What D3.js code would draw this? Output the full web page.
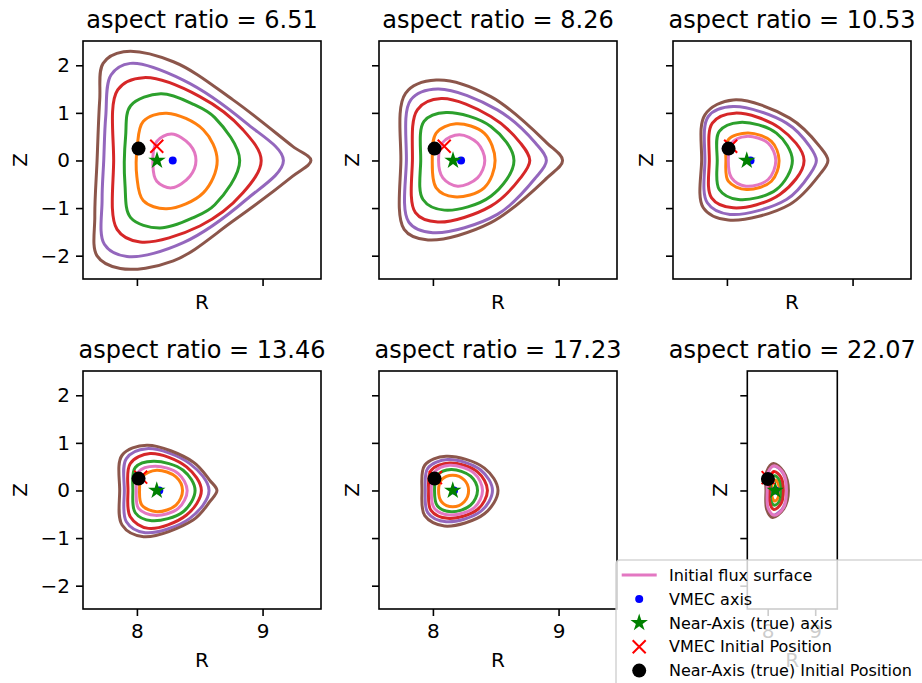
<!DOCTYPE html>
<html>
<head>
<meta charset="utf-8">
<script src="https://cdn.jsdelivr.net/npm/d3@7"></script>
<style>
body { margin: 0; background: #fff; }
text { font-family: "DejaVu Sans", sans-serif; fill: #000; }
</style>
</head>
<body>
<svg id="chart" width="922" height="683"></svg>
<script>
// one entry per panel
var aspectRatios = [6.51, 8.26, 10.53, 13.46, 17.23, 22.07];

// flux surfaces, [R, Z] points
var surfOrange = [
    [[8.237,0.994],[8.528,0.645],[8.639,0],[8.528,-0.68],[8.237,-1.015],[8.05,-0.84],[8.0,-0.35],[8.003,0.3],[8.05,0.82]],
    [[8.184,0.77],[8.408,0.575],[8.495,0],[8.408,-0.575],[8.171,-0.764],[8.026,-0.575],[7.995,0],[8.026,0.575]],
    [[8.169,0.575],[8.354,0.40],[8.415,0],[8.354,-0.436],[8.156,-0.61],[8.011,-0.436],[7.992,0],[8.011,0.436]],
    [[8.158,0.426],[8.311,0.286],[8.363,0],[8.311,-0.307],[8.158,-0.447],[8.039,-0.307],[8.021,0],[8.039,0.286]],
    [[8.158,0.321],[8.25,0.22],[8.284,0],[8.25,-0.235],[8.158,-0.342],[8.07,-0.24],[8.045,0],[8.07,0.23]],
    [[8.15,0.22],[8.22,0.15],[8.245,0],[8.22,-0.15],[8.15,-0.22],[8.095,-0.15],[8.085,0],[8.095,0.15]]
];
var surfGreen = [
    [[8.19,1.40],[8.45,1.18],[8.62,0.90],[8.818,0],[8.62,-0.93],[8.45,-1.2],[8.18,-1.42],[7.95,-1.2],[7.905,-0.5],[7.91,0.5],[7.95,1.15]],
    [[8.105,1.008],[8.461,0.715],[8.645,0],[8.461,-0.75],[8.092,-1.043],[7.921,-0.82],[7.903,0],[7.929,0.82]],
    [[8.103,0.80],[8.394,0.575],[8.521,0],[8.394,-0.61],[8.09,-0.82],[7.939,-0.61],[7.923,0],[7.939,0.61]],
    [[8.132,0.614],[8.368,0.426],[8.463,0],[8.368,-0.447],[8.118,-0.635],[7.987,-0.468],[7.968,0],[7.987,0.482]],
    [[8.145,0.44],[8.30,0.30],[8.355,0],[8.30,-0.31],[8.145,-0.447],[8.035,-0.32],[8.013,0],[8.035,0.32]],
    [[8.14,0.31],[8.25,0.21],[8.285,0],[8.25,-0.22],[8.14,-0.31],[8.07,-0.22],[8.06,0],[8.07,0.21]]
];
var surfRed = [
    [[8.053,1.74],[8.501,1.342],[8.844,0.645],[8.989,0],[8.844,-0.68],[8.501,-1.377],[8.026,-1.712],[7.842,-1.447],[7.815,0],[7.847,1.482]],
    [[8.066,1.30],[8.461,0.924],[8.697,0.366],[8.771,0],[8.697,-0.366],[8.461,-0.959],[8.039,-1.294],[7.861,-1.098],[7.837,0],[7.876,1.063]],
    [[8.063,0.994],[8.421,0.68],[8.614,0],[8.421,-0.715],[8.05,-0.994],[7.878,-0.785],[7.86,0],[7.884,0.785]],
    [[8.105,0.775],[8.395,0.495],[8.513,0],[8.395,-0.516],[8.092,-0.796],[7.947,-0.551],[7.929,0],[7.947,0.565]],
    [[8.132,0.579],[8.355,0.39],[8.434,0],[8.355,-0.40],[8.118,-0.586],[7.985,-0.42],[7.966,0],[7.985,0.42]],
    [[8.13,0.40],[8.28,0.28],[8.33,0],[8.28,-0.28],[8.13,-0.40],[8.05,-0.28],[8.035,0],[8.05,0.28]]
];
var surfPurple = [
    [[7.947,2.04],[8.369,1.69],[8.871,0.785],[9.166,0],[8.871,-0.82],[8.369,-1.726],[7.921,-2.018],[7.741,-1.761],[7.723,-0.82],[7.736,0],[7.752,0.924],[7.794,1.796]],
    [[8.039,1.503],[8.513,1.063],[8.816,0.366],[8.903,0],[8.816,-0.366],[8.513,-1.133],[8.0,-1.517],[7.808,-1.294],[7.789,0],[7.824,1.273]],
    [[8.05,1.133],[8.474,0.785],[8.659,0.296],[8.712,0],[8.659,-0.296],[8.474,-0.82],[8.024,-1.133],[7.844,-0.889],[7.825,0],[7.852,0.924]],
    [[8.079,0.879],[8.421,0.565],[8.574,0],[8.421,-0.586],[8.066,-0.886],[7.916,-0.656],[7.90,0],[7.916,0.67]],
    [[8.118,0.649],[8.38,0.43],[8.474,0],[8.38,-0.44],[8.105,-0.656],[7.96,-0.47],[7.939,0],[7.96,0.47]],
    [[8.12,0.52],[8.32,0.37],[8.405,0],[8.32,-0.37],[8.10,-0.52],[7.99,-0.37],[7.975,0],[7.99,0.37]]
];
var surfBrown = [
    [[7.894,2.284],[8.29,2.074],[8.765,1.273],[9.24,0.296],[9.385,0],[9.24,-0.33],[8.765,-1.273],[8.29,-2.11],[7.868,-2.27],[7.683,-2.005],[7.665,-1.168],[7.683,0],[7.704,1.273],[7.731,2.04]],
    [[8.026,1.691],[8.461,1.342],[8.908,0.366],[9.032,0],[8.908,-0.366],[8.461,-1.307],[7.961,-1.67],[7.771,-1.447],[7.745,0],[7.782,1.412]],
    [[8.05,1.273],[8.5,0.889],[8.738,0.296],[8.804,0],[8.738,-0.296],[8.5,-0.924],[8.011,-1.252],[7.812,-0.994],[7.799,0],[7.825,0.959]],
    [[8.079,0.949],[8.447,0.60],[8.579,0.216],[8.637,0],[8.579,-0.237],[8.447,-0.621],[8.053,-0.97],[7.882,-0.726],[7.863,0],[7.882,0.74]],
    [[8.105,0.719],[8.41,0.47],[8.518,0],[8.41,-0.49],[8.092,-0.747],[7.935,-0.53],[7.913,0],[7.935,0.53]],
    [[8.12,0.567],[8.33,0.40],[8.436,0],[8.33,-0.40],[8.10,-0.567],[7.98,-0.40],[7.964,0],[7.98,0.40]]
];
var surfPink = [
    [[8.277,0.554],[8.422,0.33],[8.47,0],[8.422,-0.33],[8.277,-0.575],[8.158,-0.437],[8.127,-0.09],[8.158,0.40]],
    [[8.211,0.54],[8.355,0.366],[8.413,0],[8.355,-0.366],[8.197,-0.54],[8.079,-0.366],[8.045,0],[8.079,0.38]],
    [[8.156,0.506],[8.328,0.366],[8.389,0],[8.328,-0.4],[8.151,-0.54],[8.037,-0.366],[8.011,0],[8.037,0.366]],
    [[8.145,0.509],[8.329,0.356],[8.40,0],[8.329,-0.377],[8.145,-0.523],[8.013,-0.377],[7.995,0],[8.013,0.391]],
    [[8.132,0.53],[8.33,0.36],[8.395,0],[8.33,-0.36],[8.132,-0.516],[8.01,-0.37],[7.987,0],[8.01,0.38]],
    [[8.14,0.52],[8.33,0.36],[8.395,0],[8.33,-0.37],[8.14,-0.52],[8.01,-0.37],[7.99,0],[8.01,0.38]]
];

// point markers per panel
var vmecAxisR = [8.285, 8.224, 8.188, 8.178, 8.168, 8.165];
var vmecAxisZ = [0, 0, 0, 0, 0, 0];
var nearAxisR = [8.16, 8.16, 8.158, 8.158, 8.158, 8.16];
var nearAxisZ = [0, 0, 0, 0, 0, 0];
var vmecStartR = [8.158, 8.09, 8.03, 8.03, 8.02, 8.01];
var vmecStartZ = [0.30, 0.30, 0.30, 0.28, 0.27, 0.27];
var nearStartR = [8.013, 8.013, 8.013, 8.013, 8.013, 8.005];
var nearStartZ = [0.25, 0.25, 0.25, 0.25, 0.25, 0.24];

var rDomain = [7.571, 9.465];
var zDomain = [-2.49, 2.51];
var rTicks = [8, 9];
var zTicks = [-2, -1, 0, 1, 2];
var legendLabels = ["Initial flux surface", "VMEC axis", "Near-Axis (true) axis",
                    "VMEC Initial Position", "Near-Axis (true) Initial Position"];

var colors = {orange: "#ff7f0e", green: "#2ca02c", red: "#d62728", purple: "#9467bd",
              brown: "#8c564b", pink: "#e377c2", blue: "#0000ff", star: "#008000", x: "#ff0000"};

var svg = d3.select("#chart");
var boxH = 238;
var boxes = [
    {x: 83, y: 41, w: 238}, {x: 379, y: 41, w: 238}, {x: 673, y: 41, w: 238},
    {x: 83, y: 371, w: 238}, {x: 379, y: 371, w: 238}, {x: 747.3, y: 371, w: 90}
];
var starSize = 95;

function crossPath(cx, cy, h) {
    return "M" + (cx - h) + "," + (cy - h) + "L" + (cx + h) + "," + (cy + h) +
           "M" + (cx - h) + "," + (cy + h) + "L" + (cx + h) + "," + (cy - h);
}

function drawPanel(i) {
    var b = boxes[i];
    var row = i < 3 ? 0 : 1;
    var showZ = (i == 0 || i == 3);
    var showR = row == 1;

    var x = d3.scaleLinear().domain(rDomain).range([b.x, b.x + b.w]);
    var y = d3.scaleLinear().domain(zDomain).range([b.y + boxH, b.y]);

    var g = svg.append("g");

    var line = d3.line()
        .x(function(d) { return x(d[0]); })
        .y(function(d) { return y(d[1]); })
        .curve(d3.curveCatmullRomClosed.alpha(0.5));

    var surfaces = [
        [surfOrange, colors.orange], [surfGreen, colors.green], [surfRed, colors.red],
        [surfPurple, colors.purple], [surfBrown, colors.brown], [surfPink, colors.pink]
    ];
    surfaces.forEach(function(s) {
        g.append("path")
            .attr("d", line(s[0][i]))
            .attr("fill", "none")
            .attr("stroke", s[1])
            .attr("stroke-width", 3);
    });

    // VMEC axis
    g.append("circle")
        .attr("cx", x(vmecAxisR[i]))
        .attr("cy", y(vmecAxisZ[i]))
        .attr("r", 4)
        .attr("fill", colors.blue);
    // near-axis axis
    g.append("path")
        .attr("d", d3.symbol().type(d3.symbolStar).size(starSize)())
        .attr("transform", "translate(" + x(nearAxisR[i]) + "," + y(nearAxisZ[i]) + ")")
        .attr("fill", colors.star);
    // VMEC initial position
    g.append("path")
        .attr("d", crossPath(x(vmecStartR[i]), y(vmecStartZ[i]), 6.5))
        .attr("stroke", colors.x)
        .attr("stroke-width", 2);
    // near-axis initial position
    g.append("circle")
        .attr("cx", x(nearStartR[i]))
        .attr("cy", y(nearStartZ[i]))
        .attr("r", 7)
        .attr("fill", "#000");

    // axes
    var yAxis = d3.axisLeft(y).tickValues(zTicks).tickSize(7).tickPadding(6).tickSizeOuter(0)
        .tickFormat(showZ ? d3.format("d") : "");
    var ya = g.append("g").attr("transform", "translate(" + b.x + ",0)").call(yAxis);

    var xAxis = d3.axisBottom(x).tickValues(rTicks).tickSize(7).tickPadding(8).tickSizeOuter(0)
        .tickFormat(showR ? d3.format("d") : "");
    var xa = g.append("g").attr("transform", "translate(0," + (b.y + boxH) + ")").call(xAxis);

    [ya, xa].forEach(function(a) {
        a.select(".domain").remove();
        a.selectAll("line").attr("stroke-width", 1.6);
        a.selectAll("text").attr("font-size", 20).attr("font-family", "DejaVu Sans");
    });

    g.append("rect")
        .attr("x", b.x).attr("y", b.y)
        .attr("width", b.w).attr("height", boxH)
        .attr("fill", "none")
        .attr("stroke", "#000")
        .attr("stroke-width", 1.6);

    g.append("text")
        .attr("x", b.x + b.w / 2)
        .attr("y", b.y - 13.5)
        .attr("text-anchor", "middle")
        .attr("font-size", 24)
        .text("aspect ratio = " + aspectRatios[i].toFixed(2));

    g.append("text")
        .attr("x", b.x + b.w / 2)
        .attr("y", b.y + boxH + (showR ? 58 : 30))
        .attr("text-anchor", "middle")
        .attr("font-size", 20)
        .text("R");

    var zx = b.x - (showZ ? 56 : 20);
    g.append("text")
        .attr("transform", "translate(" + zx + "," + (b.y + boxH / 2) + ") rotate(-90)")
        .attr("text-anchor", "middle")
        .attr("font-size", 20)
        .text("Z");
}

function drawLegend() {
    var lg = svg.append("g").attr("transform", "translate(616,560)");
    lg.append("rect")
        .attr("x", 0).attr("y", 0)
        .attr("width", 330).attr("height", 140)
        .attr("rx", 4)
        .attr("fill", "#fff").attr("fill-opacity", 0.8)
        .attr("stroke", "#cccccc").attr("stroke-opacity", 0.8)
        .attr("stroke-width", 1.6);

    var hx = 23.2;
    for (var k = 0; k < legendLabels.length; ++k) {
        var ry = 15 + k * 23.9;
        if (k == 0) {
            lg.append("line").attr("x1", 5.7).attr("x2", 40.7).attr("y1", ry).attr("y2", ry)
                .attr("stroke", colors.pink).attr("stroke-width", 3);
        } else if (k == 1) {
            lg.append("circle").attr("cx", hx).attr("cy", ry).attr("r", 4).attr("fill", colors.blue);
        } else if (k == 2) {
            lg.append("path").attr("d", d3.symbol().type(d3.symbolStar).size(starSize)())
                .attr("transform", "translate(" + hx + "," + ry + ")").attr("fill", colors.star);
        } else if (k == 3) {
            lg.append("path").attr("d", crossPath(hx, ry, 6.5))
                .attr("stroke", colors.x).attr("stroke-width", 2);
        } else {
            lg.append("circle").attr("cx", hx).attr("cy", ry).attr("r", 7).attr("fill", "#000");
        }
        lg.append("text")
            .attr("x", 53)
            .attr("y", ry)
            .attr("dy", "0.36em")
            .attr("font-size", 16)
            .text(legendLabels[k]);
    }
}

for (var i = 0; i < aspectRatios.length; ++i) {
    drawPanel(i);
}
drawLegend();
</script>
</body>
</html>
